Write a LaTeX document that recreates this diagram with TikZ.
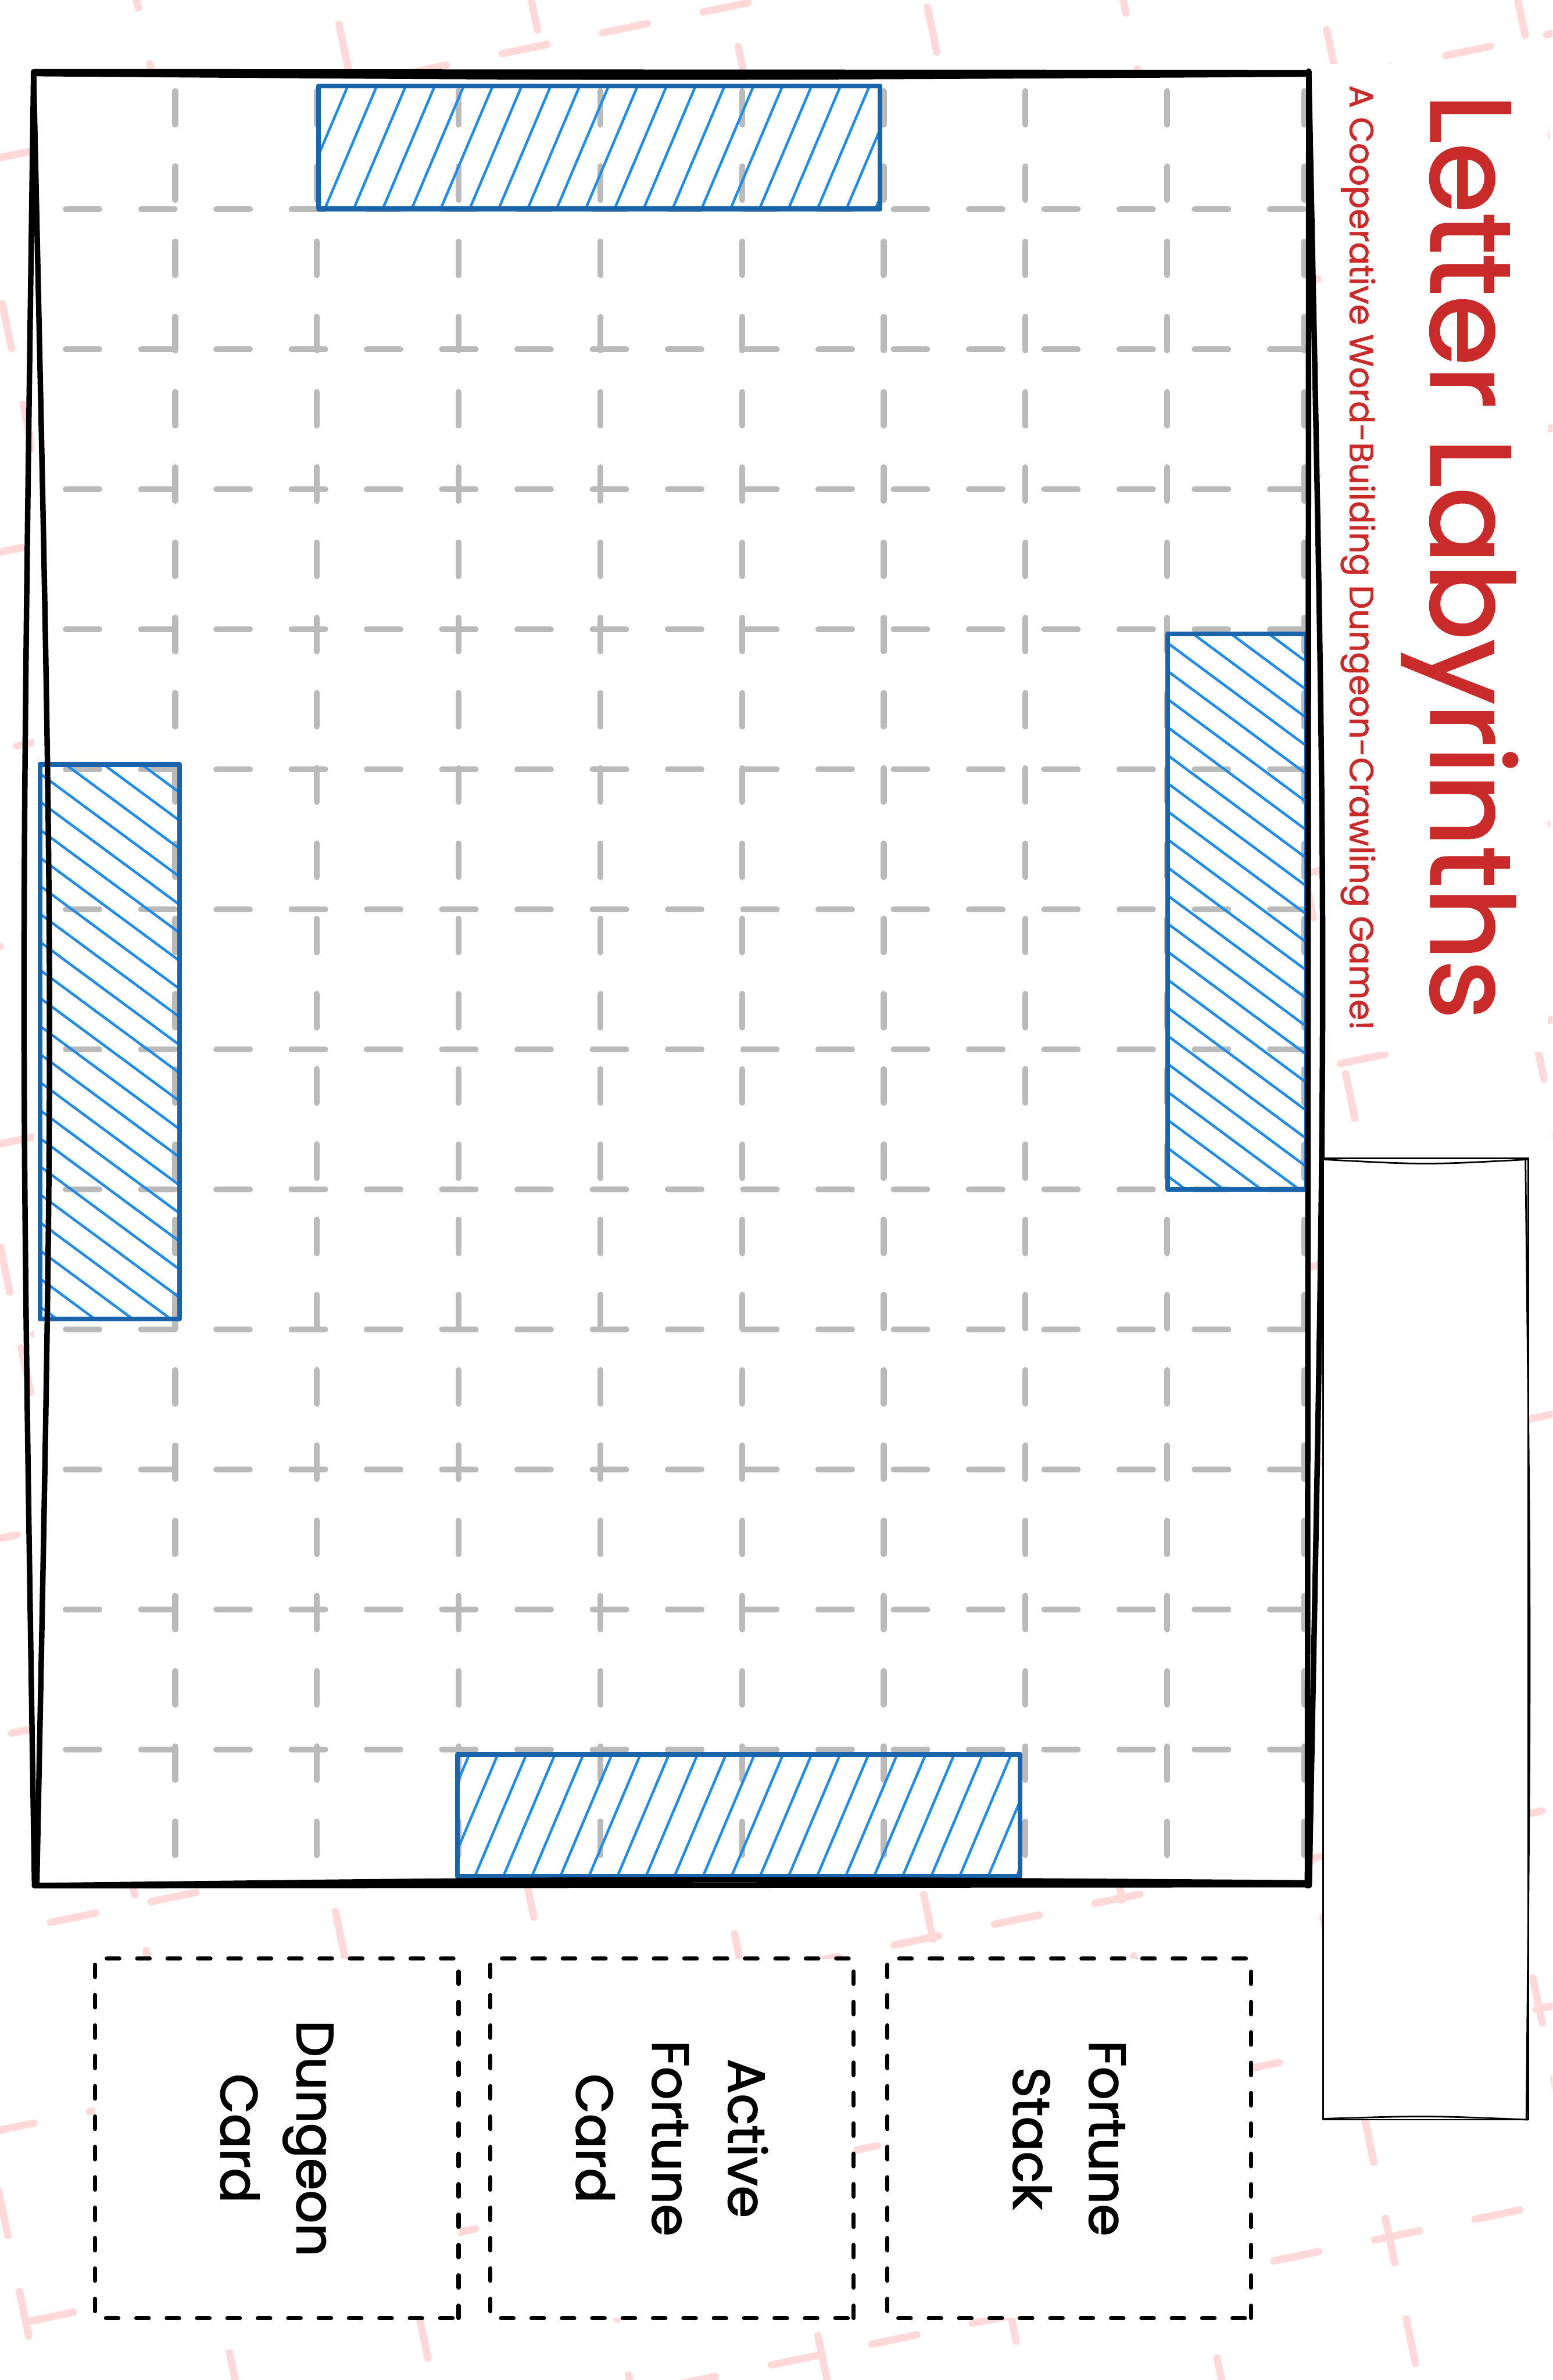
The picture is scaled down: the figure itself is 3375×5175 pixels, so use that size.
\documentclass[tikz,border=0pt]{standalone}
\usepackage{fontspec}
\setmainfont{Poppins}
\newfontfamily\handfont{Poppins}[FakeBold=2]
\newfontfamily\handfontlight{Poppins}[FakeBold=1.2]
\usepackage{xcolor}
\usepackage{tikz}
\usetikzlibrary{positioning}
\definecolor{titlered}{RGB}{201,42,42}
\definecolor{zoneline}{RGB}{25,100,171}
\definecolor{zonehatch}{RGB}{34,139,230}
\definecolor{gridgray}{RGB}{186,186,186}
\definecolor{paperpink}{RGB}{255,217,217}

\begin{document}
\begin{tikzpicture}[x=0.01cm, y=-0.01cm,
  boardline/.style={line width=3.4pt, line cap=round, line join=round},
  gridline/.style={gridgray, line width=0.13cm, line cap=round, dash pattern=on 0.73cm off 0.905cm},
  pinkline/.style={paperpink, line width=0.16cm, line cap=round, dash pattern=on 0.99cm off 1.24cm},
  zone/.style={zoneline, line width=3pt, line join=round},
  hatch/.style={zonehatch, line width=1.6pt},
  cardbox/.style={draw, fill=white, line width=2.6pt, line cap=round, dash pattern=on 0.27cm off 0.39cm,
    rotate=-90, align=center, minimum width=7.81cm, minimum height=7.9cm,
    font=\handfont\fontsize{32}{47}\selectfont},
  panelline/.style={line width=1pt}]
  \useasboundingbox (0,0) rectangle (3375,5175);
  \fill[white] (0,0) rectangle (3375,5175);

  % faint tilted grid behind everything
  \begin{scope}
    \clip (0,0) rectangle (3375,5175);
    \begin{scope}[shift={(3020,4864)}, rotate=11.7]
      \foreach \j in {-13,...,1}
        \draw[pinkline] (-3157,{420*\j}) -- (1500,{420*\j});
      \foreach \i in {-8,...,4}
        \draw[pinkline] ({420*\i},-5397) -- ({420*\i},500);
    \end{scope}
  \end{scope}
  \fill[white] (2872,139) rectangle (3365,2287);

  % board
  \fill[white] (73,158) rectangle (2848,4100);
  \foreach \y in {454.5,759,1063.5,1368,1672.5,1977,2281.5,2586,2890.5,3195,3499.5,3804}
    \draw[gridline] (143,\y) -- (2835,\y);
  \foreach \x in {381,689,997,1305,1613,1921,2229,2537,2835}
    \draw[gridline] (\x,198) -- (\x,4080);

  % hatched zones
  \begin{scope}
    \clip (692,187) rectangle (1913,454);
    \foreach \x in {580,643,...,1913}
      \draw[hatch] (\x,454) -- ++(113,-267);
  \end{scope}
  \draw[zone] (692,187) rectangle (1913,454);
  \begin{scope}
    \clip (994,3815) rectangle (2217,4080);
    \foreach \x in {908,970,...,2217}
      \draw[hatch] (\x,4080) -- ++(112,-265);
  \end{scope}
  \draw[zone] (994,3815) rectangle (2217,4080);
  \begin{scope}
    \clip (87,1662) rectangle (390,2868);
    \foreach \y in {1438,1499,...,2868}
      \draw[hatch] (87,\y) -- ++(303,224);
  \end{scope}
  \draw[zone] (87,1662) rectangle (390,2868);
  \begin{scope}
    \clip (2538,1378) rectangle (2840,2586);
    \foreach \y in {1154,1215,...,2586}
      \draw[hatch] (2538,\y) -- ++(302,224);
  \end{scope}
  \draw[zone] (2538,1378) rectangle (2840,2586);

  % board outline, two strokes per side
  \draw[boardline] (73,156) -- (2845,158);
  \draw[boardline] (73,160) .. controls (1400,170) .. (2845,161);
  \draw[boardline] (2845,155) -- (2842,4100);
  \draw[boardline] (2845,155) .. controls (2885,2100) .. (2846,4100);
  \draw[boardline] (75,4100) -- (2846,4098);
  \draw[boardline] (75,4100) .. controls (1450,4084) .. (2846,4094);
  \draw[boardline] (73,158) .. controls (45,2200) .. (75,4100);
  \draw[boardline] (73,158) .. controls (118,2200) .. (80,4100);

  % title
  \node[rotate=-90, anchor=base, inner sep=0pt, text=titlered, font=\handfont\fontsize{70}{70}\selectfont]
    (name) at (3111,1210) {Letter Labyrinths};
  \node[rotate=-90, anchor=base, inner sep=0pt, text=titlered, font=\handfontlight\fontsize{20.8}{21}\selectfont]
    (tagline) at (2934,1213) {A Cooperative Word-Building Dungeon-Crawling Game!};

  % side panel
  \draw[panelline, fill=white] (2876,2519) rectangle (3322,4609);
  \draw[panelline] (2876,2521) .. controls (3100,2533) .. (3322,2521);
  \draw[panelline] (3316,2519) .. controls (3328,3560) .. (3318,4609);
  \draw[panelline] (2876,4607) .. controls (3100,4600) .. (3322,4609);

  % card spaces
  \node[cardbox] (dungeon) at (601.5,4649.5) {Dungeon\\Card};
  \node[cardbox] (active) at (1460.5,4649.5) {Active\\Fortune\\Card};
  \node[cardbox] (stack) at (2324,4649.5) {Fortune\\Stack};
\end{tikzpicture}
\end{document}
